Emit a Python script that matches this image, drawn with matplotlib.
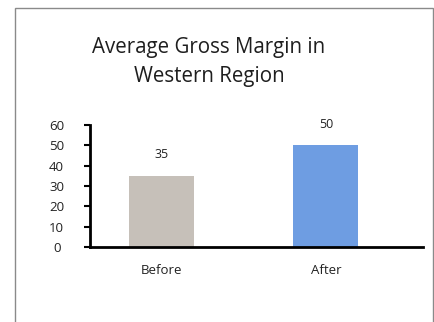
import matplotlib
matplotlib.use("Agg")
import matplotlib.pyplot as plt
from matplotlib.patches import Rectangle

categories = ["Before", "After"]
values = [35, 50]
bar_colors = ["#c6c0b9", "#6e9de2"]
yticks = [0, 10, 20, 30, 40, 50, 60]

plt.rcParams["font.family"] = ["Open Sans", "DejaVu Sans"]

fig = plt.figure(figsize=(4.35, 3.22), dpi=100)
fig.patch.set_facecolor("white")

# thin frame around the chart area
fig.patches.append(Rectangle((15 / 435, -0.05), 418 / 435, 1.05 - 8 / 322,
                             transform=fig.transFigure, fill=False,
                             edgecolor="#8a8a8a", linewidth=1.0))

fig.text(209 / 435, 1 - 62 / 322, "Average Gross Margin in\nWestern Region",
         ha="center", va="center", fontsize=14.8, color="#1e1e1e",
         linespacing=1.5)

ax = fig.add_axes([90 / 435, 75 / 322, 333 / 435, 122 / 322])
x = list(range(len(categories)))
ax.bar(x, values, width=0.395, color=bar_colors)
ax.set_xlim(-0.435, 1.59)
ax.set_ylim(0, 60)
ax.set_yticks(yticks)
ax.set_yticklabels([str(t) for t in yticks], fontsize=9.5, color="#222222")
ax.set_xticks(x)
ax.set_xticklabels(categories, fontsize=9.5, color="#222222")
ax.tick_params(axis="x", length=0, pad=12)
ax.tick_params(axis="y", length=4, width=1.5, direction="out")
for lbl in ax.get_yticklabels():
    lbl.set_horizontalalignment("center")
ax.yaxis.set_tick_params(pad=20)

for s in ["top", "right"]:
    ax.spines[s].set_visible(False)
ax.spines["left"].set_linewidth(2)
ax.spines["bottom"].set_linewidth(2)

for xi, v in zip(x, values):
    ax.annotate(str(v), (xi, v), xytext=(0, 15), textcoords="offset points",
                ha="center", va="center", fontsize=9, color="#222222",
                annotation_clip=False)

fig.savefig("out.png", dpi=100)
